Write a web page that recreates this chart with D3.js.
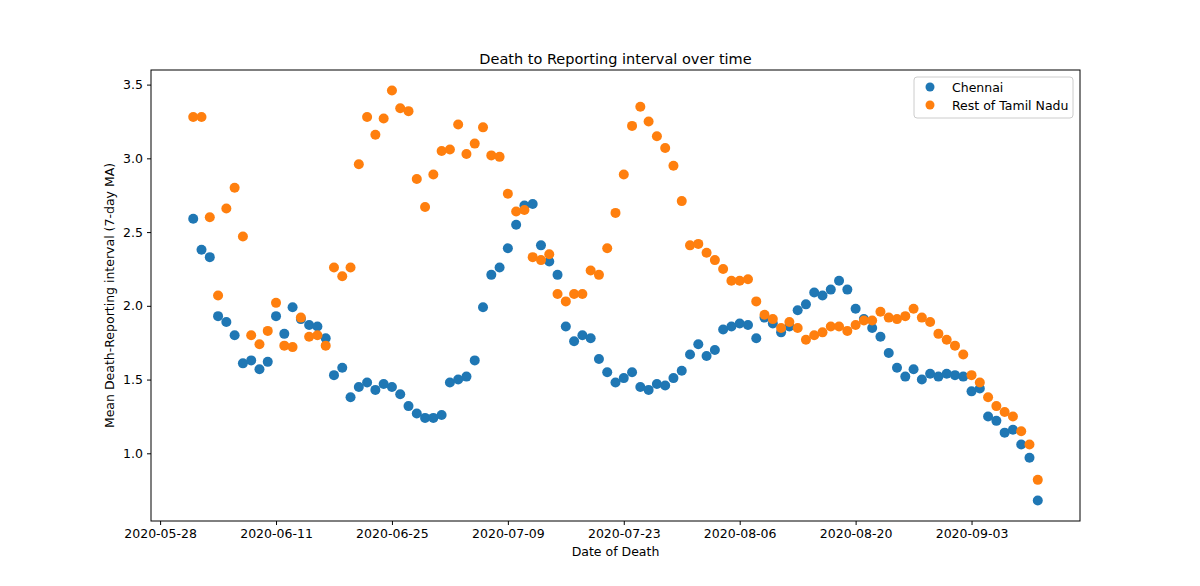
<!DOCTYPE html>
<html><head><meta charset="utf-8">
<script src="https://cdn.jsdelivr.net/npm/d3@7"></script>
<style>body{margin:0;background:#fff;} svg{display:block;font-family:"DejaVu Sans",sans-serif;}</style>
</head><body>
<svg id="chart" width="1200" height="586"></svg>
<script>
const startDate = "2020-06-01";
const chennai = [2.59,2.38,2.33,1.93,1.89,1.80,1.61,1.63,1.57,1.62,1.93,1.81,1.99,1.91,1.87,1.86,1.78,1.53,1.58,1.38,
1.45,1.48,1.43,1.47,1.45,1.40,1.32,1.27,1.24,1.24,1.26,1.48,1.50,1.52,1.63,1.99,2.21,2.26,2.39,2.55,
2.68,2.69,2.41,2.30,2.21,1.86,1.76,1.80,1.78,1.64,1.55,1.48,1.51,1.55,1.45,1.43,1.47,1.46,1.51,1.56,
1.67,1.74,1.66,1.70,1.84,1.86,1.88,1.87,1.78,1.92,1.88,1.82,1.86,1.97,2.01,2.09,2.07,2.11,2.17,2.11,
1.98,1.91,1.85,1.79,1.68,1.58,1.52,1.57,1.50,1.54,1.52,1.54,1.53,1.52,1.42,1.44,1.25,1.22,1.14,1.16,
1.06,0.97,0.68];
const restTN = [3.28,3.28,2.60,2.07,2.66,2.80,2.47,1.80,1.74,1.83,2.02,1.73,1.72,1.92,1.79,1.80,1.73,2.26,2.20,2.26,
2.96,3.28,3.16,3.27,3.46,3.34,3.32,2.86,2.67,2.89,3.05,3.06,3.23,3.03,3.10,3.21,3.02,3.01,2.76,2.64,
2.65,2.33,2.31,2.35,2.08,2.03,2.08,2.08,2.24,2.21,2.39,2.63,2.89,3.22,3.35,3.25,3.15,3.07,2.95,2.71,
2.41,2.42,2.36,2.31,2.25,2.17,2.17,2.18,2.03,1.94,1.91,1.85,1.89,1.85,1.77,1.80,1.82,1.86,1.86,1.83,
1.87,1.90,1.90,1.96,1.92,1.91,1.93,1.98,1.92,1.89,1.81,1.77,1.73,1.67,1.53,1.48,1.38,1.32,1.28,1.25,
1.15,1.06,0.82];
const xTickLabels = ["2020-05-28","2020-06-11","2020-06-25","2020-07-09","2020-07-23","2020-08-06","2020-08-20","2020-09-03"];
const yTicks = [1.0,1.5,2.0,2.5,3.0,3.5];
const seriesNames = ["Chennai","Rest of Tamil Nadu"];
const colors = ["#1f77b4","#ff7f0e"];

const parse = d3.utcParse("%Y-%m-%d");
const t0 = parse(startDate);
const dates = chennai.map((_, i) => d3.utcDay.offset(t0, i));

const svg = d3.select("#chart");
const L = 151, R = 1080, T = 70, B = 521;

const xMin = dates[0], xMax = dates[dates.length - 1];
const span = xMax - xMin;
const x = d3.scaleUtc().domain([new Date(+xMin - span*0.05), new Date(+xMax + span*0.05)]).range([L, R]);
const allV = chennai.concat(restTN);
const vmin = d3.min(allV), vmax = d3.max(allV), vs = vmax - vmin;
const y = d3.scaleLinear().domain([vmin - vs*0.05, vmax + vs*0.05]).range([B, T]);

// axes
const xAxis = d3.axisBottom(x).tickValues(xTickLabels.map(parse)).tickFormat(d3.utcFormat("%Y-%m-%d")).tickSize(4).tickPadding(4);
const gx = svg.append("g").attr("transform", `translate(0,${B})`).call(xAxis);
const yAxis = d3.axisLeft(y).tickValues(yTicks).tickFormat(d3.format(".1f")).tickSize(4).tickPadding(4);
const gy = svg.append("g").attr("transform", `translate(${L},0)`).call(yAxis);
[gx, gy].forEach(g => {
  g.select(".domain").remove();
  g.selectAll("line").attr("stroke", "#000").attr("stroke-width", 1);
  g.selectAll("text").attr("fill", "#000").style("font-size", "12.5px").style("font-family", "DejaVu Sans");
});

// points
const series = [chennai, restTN];
series.forEach((s, k) => {
  svg.append("g").selectAll("circle").data(s).join("circle")
    .attr("cx", (d, i) => x(dates[i]))
    .attr("cy", d => y(d))
    .attr("r", 5)
    .attr("fill", colors[k]);
});

// frame
svg.append("rect").attr("x", L).attr("y", T).attr("width", R - L).attr("height", B - T)
  .attr("fill", "none").attr("stroke", "#000").attr("stroke-width", 1);

// title and labels
svg.append("text").attr("x", (L + R) / 2).attr("y", 64).attr("text-anchor", "middle")
  .style("font-size", "14.5px").text("Death to Reporting interval over time");
svg.append("text").attr("x", (L + R) / 2).attr("y", 556).attr("text-anchor", "middle")
  .style("font-size", "12.5px").text("Date of Death");
svg.append("text").attr("transform", `translate(114,${(T + B) / 2}) rotate(-90)`).attr("text-anchor", "middle")
  .style("font-size", "12.5px").text("Mean Death-Reporting interval (7-day MA)");

// legend
const lg = svg.append("g");
lg.append("rect").attr("x", 914).attr("y", 77).attr("width", 159).attr("height", 41).attr("rx", 3)
  .attr("fill", "#fff").attr("fill-opacity", 0.8).attr("stroke", "#cccccc").attr("stroke-width", 1);
seriesNames.forEach((n, k) => {
  lg.append("circle").attr("cx", 930).attr("cy", 87 + k * 18).attr("r", 4.5).attr("fill", colors[k]);
  lg.append("text").attr("x", 952).attr("y", 91.5 + k * 18).style("font-size", "12.5px").text(n);
});
</script>
</body></html>
